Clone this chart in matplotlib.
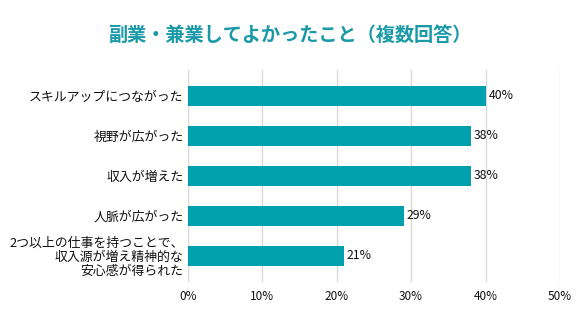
import matplotlib
matplotlib.use('Agg')
import matplotlib.pyplot as plt

plt.rcParams['font.family'] = ['Noto Sans CJK JP', 'DejaVu Sans']

labels = [
    'スキルアップにつながった',
    '視野が広がった',
    '収入が増えた',
    '人脈が広がった',
    '2つ以上の仕事を持つことで、\n収入源が増え精神的な\n安心感が得られた',
]
values = [40, 38, 38, 29, 21]
ticks = [0, 10, 20, 30, 40, 50]
tick_labels = ['0%', '10%', '20%', '30%', '40%', '50%']

BAR = '#00a1ad'
TITLE = '#1a9aa8'

fig = plt.figure(figsize=(5.8, 3.26), dpi=100)
ax = fig.add_axes([0.3236, 0.135, 0.6419, 0.650])

pos = list(range(len(labels)))
ax.barh(pos, values, height=0.5, color=BAR, zorder=3)
for y, v in zip(pos, values):
    ax.text(v + 0.4, y, f'{v}%', va='center', ha='left', fontsize=8.8, color='#111111')

ax.set_xlim(0, 50)
ax.set_ylim(4.6575, -0.6425)
ax.set_xticks(ticks)
ax.set_xticklabels(tick_labels, fontsize=8.5, color='#111111')
ax.set_yticks(pos)
ax.set_yticklabels(labels, fontsize=9.3, linespacing=1.1, color='#111111')
ax.tick_params(length=0, pad=3)
ax.tick_params(axis='x', pad=6)
ax.grid(axis='x', color='#d9d9d9', linewidth=1, zorder=0)
for s in ax.spines.values():
    s.set_visible(False)

fig.text(0.5, 1 - 35 / 326, '副業・兼業してよかったこと（複数回答）', ha='center', va='center',
         fontsize=13.8, fontweight='bold', color=TITLE)

fig.savefig('out.png', dpi=100)
